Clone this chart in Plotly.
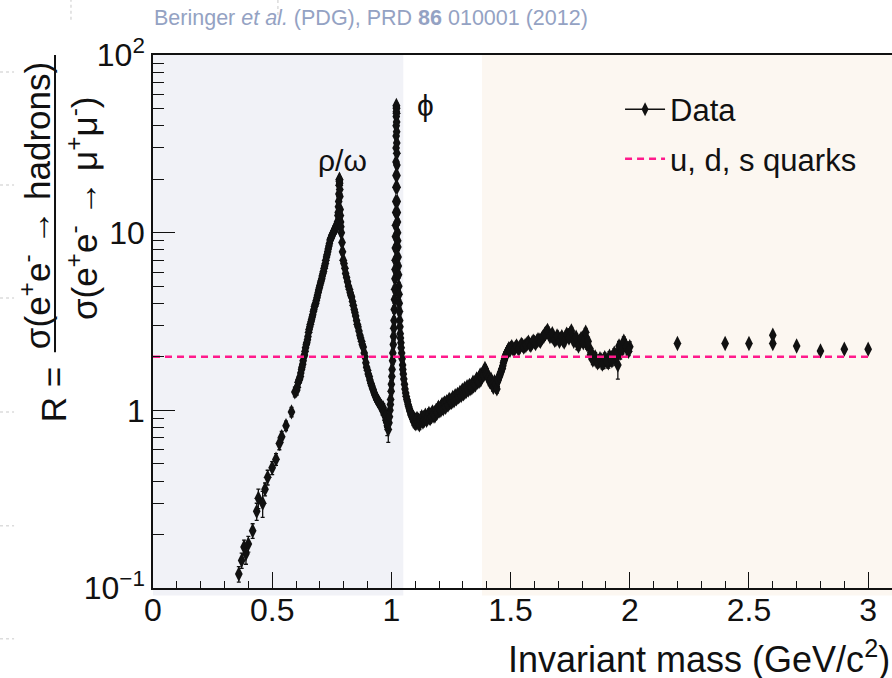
import plotly.graph_objects as go

# ---------------- data ----------------
mass = [
    0.360, 0.372, 0.382, 0.390, 0.400, 0.418, 0.435, 0.442, 0.460, 0.470,
    0.481, 0.500, 0.516, 0.530, 0.540, 0.558, 0.581, 0.595, 0.603, 0.609,
    0.615, 0.620, 0.625, 0.630, 0.635, 0.640, 0.645, 0.650, 0.655, 0.660,
    0.665, 0.670, 0.675, 0.680, 0.685, 0.690, 0.695, 0.700, 0.705, 0.710,
    0.715, 0.720, 0.725, 0.730, 0.735, 0.740, 0.745, 0.750, 0.755, 0.760,
    0.765, 0.770, 0.774, 0.776, 0.778, 0.780, 0.781, 0.782, 0.783, 0.784,
    0.785, 0.787, 0.790, 0.793, 0.798, 0.805, 0.812, 0.820, 0.827, 0.833,
    0.840, 0.847, 0.854, 0.860, 0.868, 0.875, 0.882, 0.889, 0.896, 0.903,
    0.910, 0.917, 0.924, 0.931, 0.938, 0.945, 0.952, 0.959, 0.966, 0.972,
    0.978, 0.983, 0.987, 0.990, 0.994, 0.997, 1.000, 1.003, 1.006, 1.009,
    1.011, 1.013, 1.015, 1.016, 1.017, 1.018, 1.019, 1.0195, 1.020, 1.0205,
    1.021, 1.0215, 1.022, 1.0225, 1.023, 1.024, 1.025, 1.026, 1.027, 1.029,
    1.031, 1.033, 1.035, 1.037, 1.040, 1.043, 1.047, 1.050, 1.055, 1.060,
    1.065, 1.070, 1.075, 1.080, 1.085, 1.090, 1.095, 1.100, 1.105, 1.110,
    1.115, 1.120, 1.125, 1.130, 1.135, 1.140, 1.145, 1.150, 1.155, 1.160,
    1.165, 1.170, 1.175, 1.180, 1.185, 1.190, 1.195, 1.200, 1.205, 1.210,
    1.215, 1.220, 1.225, 1.230, 1.235, 1.240, 1.245, 1.250, 1.255, 1.260,
    1.265, 1.270, 1.275, 1.280, 1.285, 1.290, 1.295, 1.300, 1.305, 1.310,
    1.315, 1.320, 1.325, 1.330, 1.335, 1.340, 1.345, 1.350, 1.355, 1.360,
    1.365, 1.370, 1.375, 1.380, 1.385, 1.390, 1.395, 1.400, 1.405, 1.410,
    1.415, 1.420, 1.425, 1.430, 1.435, 1.440, 1.445, 1.450, 1.455, 1.460,
    1.465, 1.470, 1.475, 1.480, 1.485, 1.490, 1.495, 1.500, 1.510, 1.520,
    1.530, 1.540, 1.550, 1.560, 1.570, 1.580, 1.590, 1.600, 1.610, 1.620,
    1.630, 1.640, 1.650, 1.660, 1.670, 1.680, 1.690, 1.700, 1.710, 1.720,
    1.730, 1.740, 1.750, 1.760, 1.770, 1.780, 1.790, 1.800, 1.810, 1.820,
    1.830, 1.840, 1.850, 1.860, 1.870, 1.880, 1.890, 1.900, 1.910, 1.920,
    1.930, 1.940, 1.950, 1.960, 1.970, 1.980, 1.990, 2.000,
    2.200, 2.400, 2.500, 2.600, 2.600, 2.700, 2.800, 2.900, 3.000,
]
R_value = [
    0.120, 0.143, 0.170, 0.156, 0.177, 0.210, 0.270, 0.320, 0.300, 0.360,
    0.420, 0.475, 0.530, 0.650, 0.710, 0.820, 0.980, 1.270, 1.300, 1.440,
    1.500, 1.620, 1.750, 1.900, 2.050, 2.250, 2.400, 2.600, 2.850, 3.050,
    3.250, 3.450, 3.700, 3.950, 4.150, 4.450, 4.750, 5.050, 5.350, 5.700,
    6.050, 6.500, 7.000, 7.500, 8.100, 8.700, 9.200, 9.600, 9.900, 10.30,
    10.60, 10.80, 11.50, 12.50, 14.00, 16.50, 18.50, 20.00, 19.00, 16.00,
    13.50, 11.50, 10.00, 8.800, 7.000, 6.300, 5.600, 5.000, 4.600, 4.350,
    3.900, 3.550, 3.200, 2.950, 2.650, 2.450, 2.270, 2.000, 1.750, 1.600,
    1.480, 1.380, 1.300, 1.220, 1.160, 1.120, 1.080, 1.050, 1.030, 0.950,
    0.880, 0.820, 0.780, 0.850, 1.000, 1.150, 1.400, 1.700, 2.100, 2.600,
    3.200, 4.200, 5.500, 7.000, 9.500, 13.00, 18.00, 25.00, 35.00, 45.00,
    52.00, 50.00, 42.00, 32.00, 24.00, 18.00, 13.00, 10.00, 8.300, 6.500,
    5.000, 4.000, 3.200, 2.700, 2.400, 2.100, 1.800, 1.600, 1.400, 1.250,
    1.150, 1.080, 1.020, 0.980, 0.950, 0.920, 0.900, 0.880, 0.860, 0.880,
    0.850, 0.870, 0.890, 0.880, 0.910, 0.890, 0.920, 0.900, 0.930, 0.910,
    0.940, 0.960, 0.930, 0.970, 0.950, 0.990, 1.020, 0.990, 1.030, 1.060,
    1.040, 1.080, 1.060, 1.100, 1.090, 1.120, 1.100, 1.140, 1.130, 1.160,
    1.150, 1.190, 1.180, 1.200, 1.210, 1.240, 1.230, 1.270, 1.260, 1.300,
    1.290, 1.330, 1.350, 1.320, 1.380, 1.400, 1.370, 1.420, 1.460, 1.440,
    1.500, 1.520, 1.480, 1.550, 1.600, 1.650, 1.680, 1.620, 1.550, 1.500,
    1.470, 1.440, 1.400, 1.380, 1.420, 1.360, 1.450, 1.520, 1.580, 1.650,
    1.720, 1.850, 1.950, 2.050, 2.120, 2.180, 2.200, 2.240, 2.220, 2.260,
    2.250, 2.280, 2.320, 2.300, 2.380, 2.350, 2.400, 2.420, 2.450, 2.480,
    2.520, 2.620, 2.750, 2.700, 2.620, 2.550, 2.500, 2.580, 2.520, 2.480,
    2.560, 2.650, 2.720, 2.600, 2.500, 2.400, 2.450, 2.550, 2.620, 2.350,
    2.250, 2.100, 1.950, 1.900, 1.880, 1.920, 1.860, 1.900, 1.850, 1.930,
    2.000, 1.950, 1.800, 2.100, 2.250, 2.350, 2.200, 2.280,
    2.380, 2.380, 2.380, 2.650, 2.380, 2.300, 2.160, 2.210, 2.210,
]
R_error = [
    0.012, 0.014, 0.016, 0.020, 0.018, 0.020, 0.030, 0.040, 0.050, 0.030,
    0.040, 0.040, 0.040, 0.050, 0.050, 0.050, 0.060, 0.080, 0.080, 0.080,
    0.080, 0.080, 0.090, 0.090, 0.100, 0.100, 0.110, 0.110, 0.120, 0.120,
    0.130, 0.130, 0.140, 0.150, 0.150, 0.160, 0.170, 0.180, 0.190, 0.200,
    0.210, 0.230, 0.250, 0.270, 0.300, 0.400, 0.350, 0.350, 0.350, 0.400,
    0.400, 0.400, 0.450, 0.500, 0.550, 0.600, 0.700, 0.700, 0.700, 0.600,
    0.500, 0.450, 0.400, 0.350, 0.280, 0.250, 0.220, 0.200, 0.180, 0.170,
    0.150, 0.140, 0.130, 0.120, 0.100, 0.100, 0.090, 0.080, 0.070, 0.070,
    0.060, 0.060, 0.060, 0.050, 0.050, 0.050, 0.050, 0.050, 0.060, 0.060,
    0.080, 0.100, 0.120, 0.070, 0.060, 0.060, 0.070, 0.080, 0.100, 0.120,
    0.150, 0.200, 0.250, 0.300, 0.400, 0.500, 0.700, 0.900, 1.200, 1.500,
    1.800, 1.800, 1.500, 1.200, 0.900, 0.700, 0.500, 0.400, 0.350, 0.300,
    0.250, 0.200, 0.150, 0.120, 0.100, 0.090, 0.080, 0.070, 0.060, 0.050,
    0.050, 0.050, 0.050, 0.040, 0.040, 0.040, 0.040, 0.040, 0.050, 0.060,
    0.050, 0.040, 0.050, 0.040, 0.050, 0.040, 0.040, 0.050, 0.040, 0.050,
    0.040, 0.050, 0.040, 0.050, 0.040, 0.050, 0.040, 0.050, 0.040, 0.050,
    0.040, 0.050, 0.040, 0.050, 0.040, 0.050, 0.040, 0.050, 0.040, 0.050,
    0.040, 0.050, 0.040, 0.050, 0.040, 0.050, 0.040, 0.050, 0.040, 0.050,
    0.040, 0.050, 0.040, 0.050, 0.050, 0.060, 0.050, 0.060, 0.050, 0.060,
    0.060, 0.060, 0.060, 0.070, 0.070, 0.080, 0.080, 0.080, 0.070, 0.070,
    0.070, 0.070, 0.070, 0.070, 0.080, 0.070, 0.080, 0.080, 0.080, 0.080,
    0.080, 0.080, 0.080, 0.090, 0.090, 0.090, 0.090, 0.090, 0.090, 0.090,
    0.090, 0.090, 0.090, 0.100, 0.100, 0.100, 0.100, 0.100, 0.100, 0.110,
    0.110, 0.140, 0.160, 0.150, 0.140, 0.130, 0.120, 0.130, 0.140, 0.130,
    0.140, 0.150, 0.160, 0.150, 0.140, 0.200, 0.140, 0.150, 0.160, 0.140,
    0.140, 0.130, 0.120, 0.120, 0.120, 0.130, 0.140, 0.130, 0.120, 0.140,
    0.150, 0.150, 0.300, 0.160, 0.170, 0.160, 0.150, 0.150,
    0.050, 0.050, 0.050, 0.060, 0.050, 0.050, 0.050, 0.050, 0.050,
]

# further measurements from other experiments (overlapping the main set)
mass_extra = [
    0.605, 0.612, 0.618, 0.623, 0.628, 0.633, 0.638, 0.643, 0.648, 0.653,
    0.658, 0.663, 0.668, 0.673, 0.678, 0.683, 0.688, 0.693, 0.698, 0.703,
    0.708, 0.713, 0.718, 0.723, 0.728, 0.733, 0.738, 0.743, 0.748, 0.753,
    0.758, 0.763, 0.768, 0.772, 0.777, 0.779, 0.7815, 0.7825, 0.7835, 0.786,
    0.788, 0.795, 0.801, 0.808, 0.816, 0.824, 0.830, 0.837, 0.844, 0.850,
    0.857, 0.864, 0.871, 0.878, 0.886, 0.893, 0.900, 0.907, 0.914, 0.921,
    0.928, 0.935, 0.942, 0.949, 0.956, 0.963, 0.969, 0.975, 0.980,
    0.992, 0.996, 0.999, 1.002, 1.005, 1.008, 1.010, 1.012, 1.014, 1.0155,
    1.0165, 1.0175, 1.0185, 1.0192, 1.0198, 1.0202, 1.0208, 1.0212, 1.0218, 1.0222,
    1.0228, 1.0235, 1.0245, 1.0255, 1.0265, 1.028, 1.030, 1.032, 1.034, 1.036,
    1.038, 1.041, 1.045, 1.048, 1.052, 1.057, 1.062,
    1.0675, 1.0725, 1.0775, 1.0825, 1.0875, 1.0925, 1.0975, 1.1025, 1.1075, 1.1125,
    1.1175, 1.1225, 1.1275, 1.1325, 1.1375, 1.1425, 1.1475, 1.1525, 1.1575, 1.1625,
    1.1675, 1.1725, 1.1775, 1.1825, 1.1875, 1.1925, 1.1975, 1.2025, 1.2075, 1.2125,
    1.2175, 1.2225, 1.2275, 1.2325, 1.2375, 1.2425, 1.2475, 1.2525, 1.2575, 1.2625,
    1.2675, 1.2725, 1.2775, 1.2825, 1.2875, 1.2925, 1.2975, 1.3025, 1.3075, 1.3125,
    1.3175, 1.3225, 1.3275, 1.3325, 1.3375, 1.3425, 1.3475, 1.3525, 1.3575, 1.3625,
    1.3675, 1.3725, 1.3775, 1.3825, 1.3875, 1.3925, 1.3975, 1.4025, 1.4075, 1.4125,
    1.4175, 1.4225, 1.4275, 1.4325, 1.4375, 1.4425, 1.4475, 1.4525, 1.4575, 1.4625,
    1.4675, 1.4725, 1.4775, 1.4825, 1.4875, 1.4925, 1.4975, 1.505, 1.515, 1.525,
    1.535, 1.545, 1.555, 1.565, 1.575, 1.585, 1.595, 1.605, 1.615, 1.625,
    1.635, 1.645, 1.655, 1.665, 1.675, 1.685, 1.695, 1.705, 1.715, 1.725,
    1.735, 1.745, 1.755, 1.765, 1.775, 1.785, 1.795, 1.805, 1.815, 1.825,
    1.835, 1.845, 1.855, 1.865, 1.875, 1.885, 1.895, 1.905, 1.915, 1.925,
    1.935, 1.945, 1.955, 1.965, 1.975, 1.985, 1.995,
]
R_extra = [
    1.35, 1.48, 1.55, 1.70, 1.82, 2.00, 2.15, 2.35, 2.50, 2.75,
    2.95, 3.15, 3.35, 3.60, 3.85, 4.00, 4.30, 4.60, 4.90, 5.20,
    5.50, 5.90, 6.30, 6.70, 7.30, 7.80, 8.40, 9.10, 9.40, 9.80,
    10.1, 10.5, 10.9, 11.0, 13.0, 15.0, 19.5, 19.8, 17.5, 12.5,
    10.8, 7.80, 6.70, 5.90, 5.30, 4.80, 4.45, 4.10, 3.70, 3.40,
    3.05, 2.80, 2.55, 2.35, 2.10, 1.85, 1.68, 1.55, 1.42, 1.33,
    1.25, 1.19, 1.14, 1.10, 1.06, 1.00, 0.98, 0.92, 0.86,
    0.92, 1.08, 1.28, 1.55, 1.90, 2.35, 2.90, 3.70, 4.80, 6.20,
    8.20, 11.0, 15.0, 21.0, 30.0, 40.0, 48.0, 51.0, 47.0, 37.0,
    28.0, 21.0, 15.0, 11.5, 9.00, 7.30, 5.80, 4.50, 3.60, 2.95,
    2.55, 2.25, 1.95, 1.70, 1.50, 1.32, 1.20,
    1.12, 1.05, 0.99, 0.94, 0.91, 0.87, 0.85, 0.84, 0.90, 0.86,
    0.83, 0.88, 0.92, 0.86, 0.88, 0.94, 0.88, 0.92, 0.96, 0.90,
    0.92, 0.98, 0.95, 0.93, 1.00, 0.97, 1.04, 1.01, 1.00, 1.08,
    1.02, 1.10, 1.04, 1.12, 1.07, 1.15, 1.12, 1.11, 1.18, 1.13,
    1.21, 1.16, 1.23, 1.19, 1.26, 1.21, 1.30, 1.24, 1.33, 1.27,
    1.36, 1.30, 1.38, 1.35, 1.34, 1.44, 1.41, 1.39, 1.50, 1.47,
    1.45, 1.58, 1.53, 1.62, 1.58, 1.72, 1.60, 1.58, 1.52, 1.45,
    1.50, 1.40, 1.35, 1.45, 1.40, 1.32, 1.48, 1.55, 1.62, 1.70,
    1.78, 1.90, 2.00, 2.08, 2.15, 2.22, 2.18, 2.28, 2.20, 2.30,
    2.22, 2.35, 2.27, 2.33, 2.42, 2.32, 2.45, 2.38, 2.50, 2.45,
    2.58, 2.70, 2.82, 2.60, 2.70, 2.48, 2.62, 2.45, 2.60, 2.42,
    2.68, 2.55, 2.80, 2.45, 2.58, 2.30, 2.52, 2.40, 2.75, 2.45,
    2.05, 1.92, 2.00, 1.85, 1.95, 1.82, 1.98, 1.88, 2.02, 1.90,
    2.10, 2.05, 2.30, 2.15, 2.45, 2.28, 2.15,
]
R_extra_error = [
    0.08, 0.08, 0.08, 0.09, 0.09, 0.10, 0.10, 0.11, 0.11, 0.12,
    0.12, 0.13, 0.13, 0.14, 0.15, 0.15, 0.16, 0.17, 0.18, 0.19,
    0.20, 0.21, 0.23, 0.25, 0.27, 0.30, 0.35, 0.35, 0.35, 0.35,
    0.40, 0.40, 0.40, 0.45, 0.50, 0.60, 0.70, 0.70, 0.60, 0.50,
    0.45, 0.30, 0.25, 0.22, 0.20, 0.18, 0.17, 0.15, 0.14, 0.13,
    0.12, 0.11, 0.10, 0.09, 0.08, 0.07, 0.07, 0.06, 0.06, 0.06,
    0.05, 0.05, 0.05, 0.05, 0.05, 0.06, 0.06, 0.07, 0.08,
    0.07, 0.06, 0.07, 0.08, 0.09, 0.11, 0.13, 0.17, 0.22, 0.28,
    0.35, 0.45, 0.60, 0.80, 1.10, 1.40, 1.70, 1.80, 1.70, 1.30,
    1.00, 0.80, 0.60, 0.45, 0.35, 0.30, 0.25, 0.20, 0.16, 0.13,
    0.11, 0.09, 0.08, 0.07, 0.06, 0.06, 0.05,
    0.05, 0.05, 0.05, 0.05, 0.05, 0.05, 0.05, 0.05, 0.06, 0.05,
    0.05, 0.05, 0.06, 0.05, 0.05, 0.05, 0.05, 0.05, 0.06, 0.05,
    0.05, 0.05, 0.05, 0.05, 0.05, 0.05, 0.05, 0.05, 0.05, 0.05,
    0.05, 0.05, 0.05, 0.05, 0.05, 0.05, 0.05, 0.05, 0.05, 0.05,
    0.05, 0.05, 0.05, 0.05, 0.05, 0.05, 0.05, 0.05, 0.05, 0.05,
    0.05, 0.05, 0.05, 0.05, 0.05, 0.06, 0.06, 0.06, 0.06, 0.06,
    0.06, 0.07, 0.07, 0.07, 0.07, 0.08, 0.07, 0.07, 0.07, 0.07,
    0.07, 0.07, 0.07, 0.07, 0.07, 0.07, 0.07, 0.07, 0.08, 0.08,
    0.08, 0.08, 0.08, 0.09, 0.09, 0.09, 0.09, 0.09, 0.09, 0.09,
    0.09, 0.09, 0.09, 0.09, 0.10, 0.10, 0.10, 0.10, 0.10, 0.10,
    0.11, 0.12, 0.13, 0.12, 0.12, 0.11, 0.12, 0.11, 0.12, 0.11,
    0.12, 0.12, 0.13, 0.11, 0.12, 0.12, 0.12, 0.13, 0.14, 0.13,
    0.12, 0.11, 0.11, 0.11, 0.11, 0.11, 0.12, 0.11, 0.12, 0.12,
    0.12, 0.13, 0.14, 0.13, 0.14, 0.13, 0.12,
]

quark_mass = [0.0, 3.0]
quark_R = [2.0, 2.0]

x_tick_values = [0, 0.5, 1, 1.5, 2, 2.5, 3]
x_tick_labels = ["0", "0.5", "1", "1.5", "2", "2.5", "3"]
y_tick_values = [0.1, 1, 10, 100]
y_tick_labels = ["10<sup>\u22121</sup>", "1", "10", "10<sup>2</sup>"]
y_minor_values = [0.2, 0.3, 0.4, 0.5, 0.6, 0.7, 0.8, 0.9,
                  2, 3, 4, 5, 6, 7, 8, 9,
                  20, 30, 40, 50, 60, 70, 80, 90]

low_band = [0.0, 1.05]
high_band = [1.38, 3.1]

# ---------------- figure ----------------
FONT = "Liberation Sans, Arial, Helvetica, sans-serif"
BLACK = "#111111"
PINK = "#ff1a8c"

fig = go.Figure()

for xs, ys, es in [(mass, R_value, R_error), (mass_extra, R_extra, R_extra_error)]:
    fig.add_trace(go.Scatter(
        x=xs, y=ys, mode="markers",
        marker=dict(symbol="diamond-tall", size=11, color=BLACK, line=dict(width=0)),
        error_y=dict(type="data", array=es, visible=True, color=BLACK,
                     thickness=1.3, width=2),
        showlegend=False, hoverinfo="x+y",
    ))

fig.add_trace(go.Scatter(
    x=quark_mass, y=quark_R, mode="lines",
    line=dict(color=PINK, width=2.5, dash="7px,5px"),
    name="u, d, s quarks", legendgroup="b", legendrank=2,
))

# legend entry for Data (line + marker, as in the reference)
fig.add_trace(go.Scatter(
    x=[None], y=[None], mode="lines+markers",
    marker=dict(symbol="diamond-tall", size=10, color=BLACK),
    line=dict(color=BLACK, width=1.5),
    name="Data", legendgroup="a", legendrank=1,
))

# shaded bands
fig.add_shape(type="rect", xref="x", yref="paper", x0=low_band[0], x1=low_band[1],
              y0=-0.014, y1=1, fillcolor="#f1f2f7", line_width=0, layer="below")
fig.add_shape(type="rect", xref="x", yref="paper", x0=high_band[0], x1=high_band[1],
              y0=-0.014, y1=1, fillcolor="#fcf7f1", line_width=0, layer="below")

# faint dotted page marks at the left / top edge of the picture
for yy in [0.968, 0.756, 0.544, 0.330, 0.117, -0.095]:
    fig.add_shape(type="line", xref="paper", yref="paper", x0=-0.207, x1=-0.188,
                  y0=yy, y1=yy, line=dict(color="#dcdcdc", width=1.5, dash="dot"))
for xx, ylow in [(-0.111, 1.066), (0.169, 1.075)]:
    fig.add_shape(type="line", xref="paper", yref="paper", x0=xx, x1=xx,
                  y0=ylow, y1=1.103, line=dict(color="#dcdcdc", width=1.5, dash="dot"))

# y-axis fraction bar
fig.add_shape(type="line", xref="paper", yref="paper", x0=-0.1326, x1=-0.1326,
              y0=0.4423, y1=1.0, line=dict(color=BLACK, width=2))

annotations = [
    dict(text="R =", x=-0.1353, y=0.3615, textangle=-90, font_size=35),
    dict(text="\u03c3(e<sup>+</sup>e<sup>-</sup> \u2192 hadrons)", x=-0.1597, y=0.7183,
         textangle=-90, font_size=35),
    dict(text="\u03c3(e<sup>+</sup>e<sup>-</sup> \u2192 \u03bc<sup>+</sup>\u03bc<sup>-</sup>)",
         x=-0.0961, y=0.7127, textangle=-90, font_size=35),
]
for a in annotations:
    fig.add_annotation(xref="paper", yref="paper", showarrow=False,
                       xanchor="center", yanchor="middle",
                       font=dict(family=FONT, color=BLACK, size=a.pop("font_size")), **a)

fig.add_annotation(xref="paper", yref="paper", x=1.0, y=-0.130, xanchor="right",
                   yanchor="middle", showarrow=False,
                   text="Invariant mass (GeV/c<sup>2</sup>)",
                   font=dict(family=FONT, color=BLACK, size=36))
fig.add_annotation(xref="paper", yref="paper", x=-0.0014, y=1.0695, xanchor="left",
                   yanchor="middle", showarrow=False,
                   text="Beringer <i>et al.</i> (PDG), PRD <b>86</b> 010001 (2012)",
                   font=dict(family=FONT, color="#94a2c3", size=21.5))
fig.add_annotation(xref="x", yref="y", x=0.797, y=1.408, showarrow=False,
                   text="\u03c1/\u03c9", font=dict(family=FONT, color=BLACK, size=30))
fig.add_annotation(xref="x", yref="y", x=1.141, y=1.718, showarrow=False,
                   text="\u03d5", font=dict(family=FONT, color=BLACK, size=30))

fig.update_layout(
    width=892, height=678,
    margin=dict(l=153, r=0, t=55, b=90, pad=0),
    paper_bgcolor="white", plot_bgcolor="rgba(0,0,0,0)",
    font=dict(family=FONT, color=BLACK),
    legend=dict(x=0.632, y=0.948, xanchor="left", yanchor="top",
                bgcolor="rgba(0,0,0,0)", font=dict(size=31, family=FONT, color=BLACK),
                traceorder="grouped", tracegroupgap=6, itemwidth=40),
)
fig.update_xaxes(
    range=[0, 3.1], showgrid=False, zeroline=False,
    showline=True, linecolor=BLACK, linewidth=1.5, mirror=True,
    tickmode="array", tickvals=x_tick_values, ticktext=x_tick_labels,
    ticks="inside", ticklen=16, tickwidth=1.3, tickcolor=BLACK,
    tickfont=dict(size=32, family=FONT, color=BLACK), ticklabelstandoff=-7,
    minor=dict(ticks="inside", ticklen=7, dtick=0.1, tick0=0, tickcolor=BLACK, tickwidth=1.3),
)
fig.update_yaxes(
    type="log", range=[-1, 2], showgrid=False, zeroline=False,
    showline=True, linecolor=BLACK, linewidth=1.5,
    tickmode="array", tickvals=y_tick_values, ticktext=y_tick_labels,
    ticks="inside", ticklen=22, tickwidth=1.3, tickcolor=BLACK,
    tickfont=dict(size=32, family=FONT, color=BLACK),
    minor=dict(ticks="inside", ticklen=11, tickvals=y_minor_values,
               tickcolor=BLACK, tickwidth=1.3),
)

fig.write_html("out.html")
